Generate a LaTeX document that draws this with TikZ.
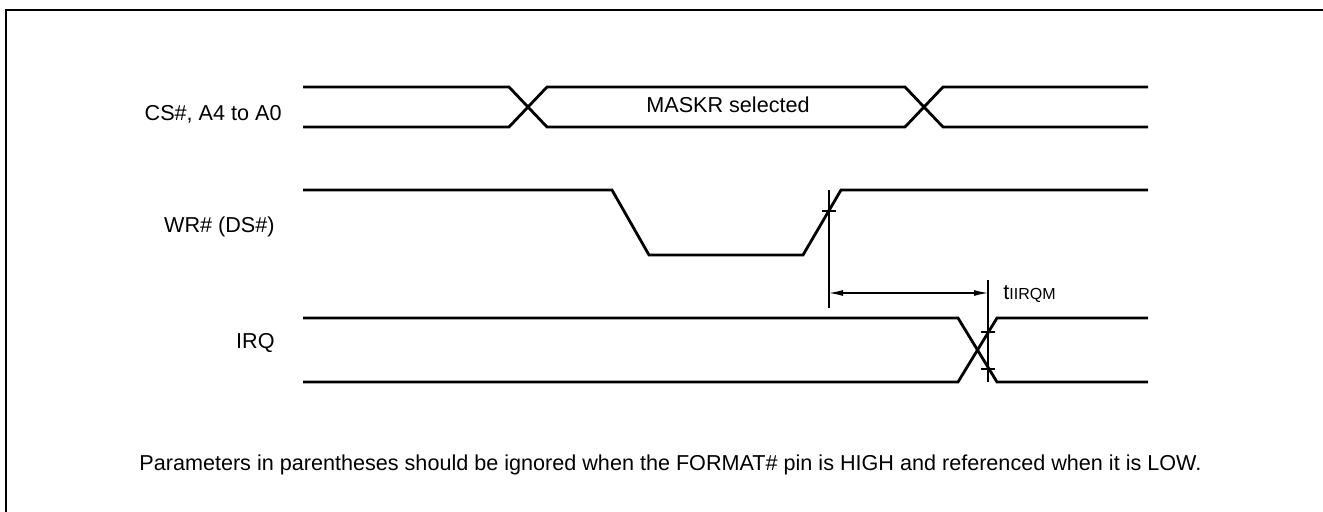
\documentclass[tikz,border=0pt]{standalone}
\usepackage{fontspec}
\setmainfont{Liberation Sans}
\usetikzlibrary{arrows.meta}
\begin{document}
\begin{tikzpicture}[x=0.5pt,y=-0.5pt,
  sig/.style={line width=1.4pt, line join=miter},
  markline/.style={line width=0.9pt},
  tickline/.style={line width=0.8pt},
  dimline/.style={line width=0.6pt, {Latex[length=7pt,width=3pt]}-{Latex[length=7pt,width=3pt]}},
  lbl/.style={font=\fontsize{10.8}{13}\selectfont, inner sep=0pt},
  frame/.style={line width=1pt}]
\useasboundingbox (0,0) rectangle (1323,512);
\draw[frame] (6,512) -- (6,10) -- (1323,10);

% CS#, A4 to A0 bus
\draw[sig] (303,87) -- (509,87) -- (547,127) -- (905,127) -- (943,87) -- (1148,87);
\draw[sig] (303,127) -- (509,127) -- (547,87) -- (905,87) -- (943,127) -- (1148,127);
\node[lbl, anchor=east] (cs) at (282,114) {CS\#, A4 to A0};
\node[lbl] (mk) at (728,105) {MASKR selected};

% WR# (DS#)
\draw[sig] (303,190) -- (612,190) -- (649,255) -- (803,255) -- (841,190) -- (1148,190);
\node[lbl, anchor=east] (wr) at (275,227) {WR\# (DS\#)};
\coordinate (v1top) at (829,190);
\coordinate (v1bot) at (829,308);
\draw[markline] (v1top) -- (v1bot);
\draw[tickline] (822,211) -- (836,211);

% IRQ
\draw[sig] (303,318) -- (958,318) -- (997,382) -- (1148,382);
\draw[sig] (303,382) -- (958,382) -- (997,318) -- (1148,318);
\node[lbl, anchor=east] (irq) at (275,343) {IRQ};
\coordinate (v2top) at (988,280);
\coordinate (v2bot) at (988,382);
\draw[markline] (v2top) -- (v2bot);
\draw[tickline] (981,332) -- (995,332);
\draw[tickline] (981,369) -- (995,369);

% timing dimension
\coordinate (a1) at (829,293);
\coordinate (a2) at (988,293);
\draw[dimline] (a1) -- (a2);
\node[lbl, anchor=west] (t) at (1003,294) {t{\fontsize{8}{9}\selectfont IIRQM}};

% footnote
\node[lbl, anchor=west] (note) at (139,465) {Parameters in parentheses should be ignored when the FORMAT\# pin is HIGH and referenced when it is LOW.};
\end{tikzpicture}
\end{document}
